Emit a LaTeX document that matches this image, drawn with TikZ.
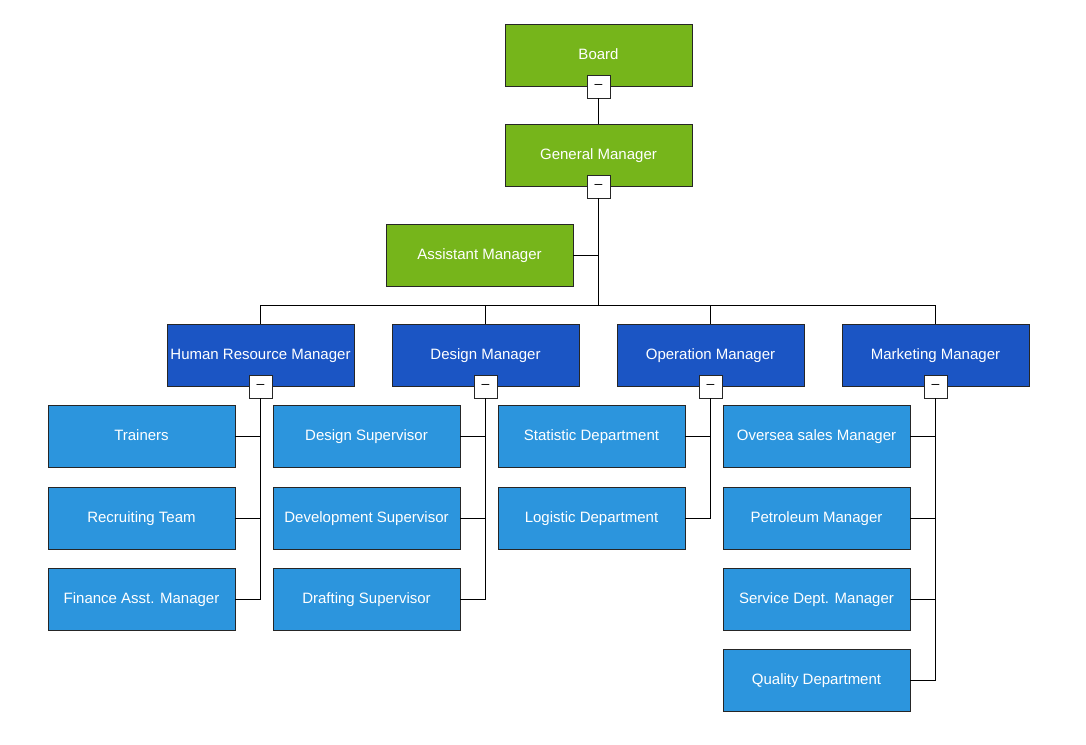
\documentclass[tikz,border=0pt]{standalone}
\usepackage{fontspec}
\setmainfont{Liberation Sans}
\definecolor{topgreen}{HTML}{76B51B}
\definecolor{mgrblue}{HTML}{1B55C4}
\definecolor{deptblue}{HTML}{2C95DD}
\begin{document}
\begin{tikzpicture}[x=1pt,y=-1pt,
  box/.style={draw=black!85,line width=0.9pt,minimum width=187pt,minimum height=62pt,
    inner sep=0pt,text=white,text depth=1pt,font=\fontsize{15}{18}\selectfont},
  topbox/.style={box,fill=topgreen},
  mgrbox/.style={box,fill=mgrblue},
  deptbox/.style={box,fill=deptblue},
  btn/.style={draw=black!85,line width=0.9pt,fill=white,minimum size=23pt,inner sep=0pt,
    text=black,font=\fontsize{14}{14}\selectfont},
  link/.style={line width=1pt}]
  \useasboundingbox (0,0) rectangle (1086,744);
  % top of the chart
  \node[topbox] (board) at (598.5,55) {Board};
  \node[topbox] (gm) at (598.5,155) {General Manager};
  \node[topbox] (asst) at (479.5,255) {Assistant Manager};
  % managers
  \node[mgrbox] (hr) at (260.5,355) {Human Resource Manager};
  \node[mgrbox] (design) at (485.5,355) {Design Manager};
  \node[mgrbox] (oper) at (710.5,355) {Operation Manager};
  \node[mgrbox] (mkt) at (935.5,355) {Marketing Manager};
  % departments
  \node[deptbox] (trainers) at (141.5,436) {Trainers};
  \node[deptbox] (recruit) at (141.5,518) {Recruiting Team};
  \node[deptbox] (finance) at (141.5,599) {Finance Asst. Manager};
  \node[deptbox] (dsup) at (366.5,436) {Design Supervisor};
  \node[deptbox] (devsup) at (366.5,518) {Development Supervisor};
  \node[deptbox] (drsup) at (366.5,599) {Drafting Supervisor};
  \node[deptbox] (stat) at (591.5,436) {Statistic Department};
  \node[deptbox] (logis) at (591.5,518) {Logistic Department};
  \node[deptbox] (oversea) at (816.5,436) {Oversea sales Manager};
  \node[deptbox] (petrol) at (816.5,518) {Petroleum Manager};
  \node[deptbox] (service) at (816.5,599) {Service Dept. Manager};
  \node[deptbox] (quality) at (816.5,680) {Quality Department};
  % collapse buttons
  \node[btn] (boardbtn) at (board.south) {–};
  \node[btn] (gmbtn) at (gm.south) {–};
  \node[btn] (hrbtn) at (hr.south) {–};
  \node[btn] (designbtn) at (design.south) {–};
  \node[btn] (operbtn) at (oper.south) {–};
  \node[btn] (mktbtn) at (mkt.south) {–};
  \coordinate (bus) at (598.5,305);
  % connectors
  \draw[link] (boardbtn) -- (gm);
  \draw[link] (gmbtn) -- (bus);
  \draw[link] (asst.east) -- (asst.east -| gmbtn);
  \draw[link] (bus) -| (hr.north);
  \draw[link] (bus) -| (design.north);
  \draw[link] (bus) -| (oper.north);
  \draw[link] (bus) -| (mkt.north);
  \draw[link] (hrbtn) |- (trainers.east);
  \draw[link] (hrbtn) |- (recruit.east);
  \draw[link] (hrbtn) |- (finance.east);
  \draw[link] (designbtn) |- (dsup.east);
  \draw[link] (designbtn) |- (devsup.east);
  \draw[link] (designbtn) |- (drsup.east);
  \draw[link] (operbtn) |- (stat.east);
  \draw[link] (operbtn) |- (logis.east);
  \draw[link] (mktbtn) |- (oversea.east);
  \draw[link] (mktbtn) |- (petrol.east);
  \draw[link] (mktbtn) |- (service.east);
  \draw[link] (mktbtn) |- (quality.east);
\end{tikzpicture}
\end{document}
